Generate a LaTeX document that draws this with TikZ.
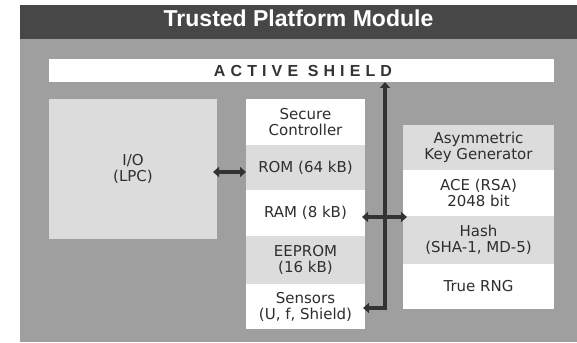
\documentclass[tikz,border=0pt]{standalone}
\usepackage{fontspec}
\setmainfont{DejaVu Sans}
\newfontfamily\headfont{Liberation Sans}
\newfontfamily\shieldfont[LetterSpace=32]{Liberation Sans}
\usetikzlibrary{arrows.meta,calc}

\definecolor{bandcol}{HTML}{474747}
\definecolor{fieldcol}{HTML}{9F9F9F}
\definecolor{cellgrey}{HTML}{DCDCDC}
\definecolor{inkcol}{HTML}{333333}
\definecolor{textcol}{HTML}{2E2E2E}

\tikzset{
  cell/.style={rectangle, inner sep=0pt, outer sep=0pt, align=center,
    text=textcol, font=\fontsize{15}{16}\selectfont},
  whitecell/.style={cell, fill=white},
  greycell/.style={cell, fill=cellgrey},
  ctrlcell/.style={minimum width=119pt},
  keycell/.style={minimum width=151pt},
  conn/.style={draw=inkcol, line width=4.5pt},
  bustip/.tip={Triangle[length=6pt,width=10pt]}
}

\begin{document}
\begin{tikzpicture}[x=1pt,y=-1pt]
  % page, dark title band and grey field
  \fill[white] (0,0) rectangle (577,342);
  \fill[fieldcol] (20,39) rectangle (577,342);
  \fill[bandcol] (20,5) rectangle (577,39);
  \useasboundingbox (0,0) rectangle (577,342);

  \node[anchor=base, text=white, font=\headfont\bfseries\fontsize{23}{23}\selectfont]
    (title) at (298.5,27) {Trusted Platform Module};

  % active shield bar
  \node[whitecell, minimum width=505pt, minimum height=23pt, text=inkcol,
    font=\shieldfont\bfseries\fontsize{16}{16}\selectfont]
    (shield) at (301.5,70.5) {\hspace*{3pt}ACTIVE SHIELD};

  % I/O block
  \node[greycell, minimum width=168pt, minimum height=140pt]
    (io) at (133,169) {I/O\\(LPC)};

  % secure controller column
  \node[whitecell, ctrlcell, minimum height=46pt] (sc)      at (305.5,122)   {Secure\\Controller};
  \node[greycell,  ctrlcell, minimum height=45pt] (rom)     at (305.5,167.5) {ROM (64 kB)};
  \node[whitecell, ctrlcell, minimum height=46pt] (ram)     at (305.5,213)   {RAM (8 kB)};
  \node[greycell,  ctrlcell, minimum height=48pt] (eeprom)  at (305.5,260)   {EEPROM\\(16 kB)};
  \node[whitecell, ctrlcell, minimum height=45pt] (sensors) at (305.5,306.5) {Sensors\\(U, f, Shield)};

  % crypto column
  \node[greycell,  keycell, minimum height=45pt] (akg)  at (478.5,147.5) {Asymmetric\\Key Generator};
  \node[whitecell, keycell, minimum height=46pt] (ace)  at (478.5,193)   {ACE (RSA)\\2048 bit};
  \node[greycell,  keycell, minimum height=48pt] (hash) at (478.5,240)   {Hash\\(SHA-1, MD-5)};
  \node[whitecell, keycell, minimum height=45pt] (rng)  at (478.5,286.5) {True RNG};

  % connectors
  \draw[conn, {bustip}-{bustip}] ($(io.east)+(-4,3)$) -- ($(rom.west)+(0,4.5)$);
  \draw[conn, {bustip}-{bustip}] ($(ram.east)+(-3,4)$) -- ($(hash.west |- ram.east)+(4,4)$);
  \coordinate (bustop) at ($(shield.south)+(83.5,0)$);
  \draw[conn, {bustip}-{bustip}] (bustop) |- ($(sensors.east)+(-2,1.5)$);
\end{tikzpicture}
\end{document}
